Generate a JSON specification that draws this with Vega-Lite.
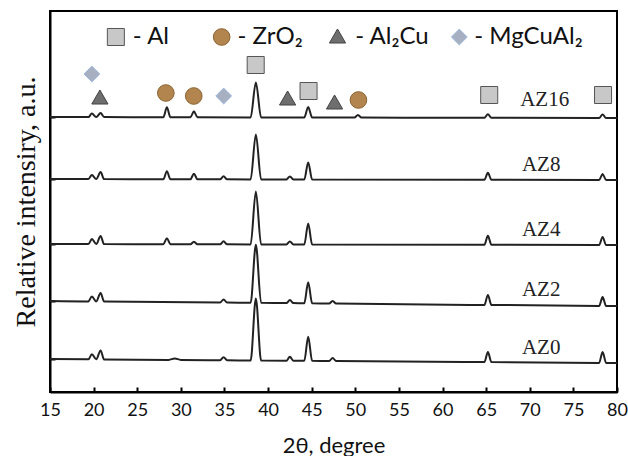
{
  "$schema": "https://vega.github.io/schema/vega-lite/v6.json",
  "width": 567,
  "height": 381,
  "autosize": "none",
  "padding": {"left": 50, "top": 11, "right": 11, "bottom": 64},
  "background": "white",
  "config": {
    "view": {"stroke": "#000000", "strokeWidth": 2},
    "axis": {"domainColor": "#000000", "domainWidth": 2, "tickColor": "#000000", "tickWidth": 2, "grid": false}
  },
  "datasets": {
    "xrd": [
      {"sample":"AZ0","theta":15,"intensity":33},
      {"sample":"AZ0","theta":19.4,"intensity":32.7},
      {"sample":"AZ0","theta":19.8,"intensity":37.7},
      {"sample":"AZ0","theta":20.3,"intensity":32.7},
      {"sample":"AZ0","theta":20.8,"intensity":41.6},
      {"sample":"AZ0","theta":21.2,"intensity":32.6},
      {"sample":"AZ0","theta":28.6,"intensity":32.1},
      {"sample":"AZ0","theta":29.3,"intensity":33.6},
      {"sample":"AZ0","theta":30.0,"intensity":32.1},
      {"sample":"AZ0","theta":34.5,"intensity":31.8},
      {"sample":"AZ0","theta":34.9,"intensity":34.8},
      {"sample":"AZ0","theta":35.3,"intensity":31.8},
      {"sample":"AZ0","theta":38.0,"intensity":31.5},
      {"sample":"AZ0","theta":38.6,"intensity":93.5},
      {"sample":"AZ0","theta":39.2,"intensity":31.5},
      {"sample":"AZ0","theta":42.1,"intensity":31.3},
      {"sample":"AZ0","theta":42.5,"intensity":35.3},
      {"sample":"AZ0","theta":42.9,"intensity":31.3},
      {"sample":"AZ0","theta":44.15,"intensity":31.2},
      {"sample":"AZ0","theta":44.6,"intensity":55.2},
      {"sample":"AZ0","theta":45.05,"intensity":31.2},
      {"sample":"AZ0","theta":47.0,"intensity":31.0},
      {"sample":"AZ0","theta":47.4,"intensity":34.0},
      {"sample":"AZ0","theta":47.8,"intensity":31.0},
      {"sample":"AZ0","theta":64.8,"intensity":29.9},
      {"sample":"AZ0","theta":65.2,"intensity":39.9},
      {"sample":"AZ0","theta":65.6,"intensity":29.9},
      {"sample":"AZ0","theta":77.95,"intensity":29.1},
      {"sample":"AZ0","theta":78.35,"intensity":40.1},
      {"sample":"AZ0","theta":78.75,"intensity":29.1},
      {"sample":"AZ0","theta":80,"intensity":29},

      {"sample":"AZ2","theta":15,"intensity":91},
      {"sample":"AZ2","theta":19.4,"intensity":90.6},
      {"sample":"AZ2","theta":19.8,"intensity":95.6},
      {"sample":"AZ2","theta":20.3,"intensity":90.6},
      {"sample":"AZ2","theta":20.8,"intensity":99.0},
      {"sample":"AZ2","theta":21.2,"intensity":90.5},
      {"sample":"AZ2","theta":34.5,"intensity":89.5},
      {"sample":"AZ2","theta":34.9,"intensity":92.5},
      {"sample":"AZ2","theta":35.3,"intensity":89.5},
      {"sample":"AZ2","theta":38.0,"intensity":89.2},
      {"sample":"AZ2","theta":38.6,"intensity":147.2},
      {"sample":"AZ2","theta":39.2,"intensity":89.2},
      {"sample":"AZ2","theta":42.1,"intensity":88.9},
      {"sample":"AZ2","theta":42.5,"intensity":91.9},
      {"sample":"AZ2","theta":42.9,"intensity":88.9},
      {"sample":"AZ2","theta":44.15,"intensity":88.7},
      {"sample":"AZ2","theta":44.6,"intensity":109.7},
      {"sample":"AZ2","theta":45.05,"intensity":88.7},
      {"sample":"AZ2","theta":47.0,"intensity":88.5},
      {"sample":"AZ2","theta":47.4,"intensity":91.0},
      {"sample":"AZ2","theta":47.8,"intensity":88.5},
      {"sample":"AZ2","theta":64.8,"intensity":87.1},
      {"sample":"AZ2","theta":65.2,"intensity":97.1},
      {"sample":"AZ2","theta":65.6,"intensity":87.1},
      {"sample":"AZ2","theta":77.95,"intensity":86.1},
      {"sample":"AZ2","theta":78.35,"intensity":95.1},
      {"sample":"AZ2","theta":78.75,"intensity":86.1},
      {"sample":"AZ2","theta":80,"intensity":86},

      {"sample":"AZ4","theta":15,"intensity":148},
      {"sample":"AZ4","theta":19.4,"intensity":147.9},
      {"sample":"AZ4","theta":19.8,"intensity":152.9},
      {"sample":"AZ4","theta":20.3,"intensity":147.9},
      {"sample":"AZ4","theta":20.8,"intensity":155.9},
      {"sample":"AZ4","theta":21.2,"intensity":147.9},
      {"sample":"AZ4","theta":28.0,"intensity":147.8},
      {"sample":"AZ4","theta":28.4,"intensity":153.8},
      {"sample":"AZ4","theta":28.8,"intensity":147.8},
      {"sample":"AZ4","theta":31.1,"intensity":147.75},
      {"sample":"AZ4","theta":31.5,"intensity":150.25},
      {"sample":"AZ4","theta":31.9,"intensity":147.75},
      {"sample":"AZ4","theta":34.5,"intensity":147.7},
      {"sample":"AZ4","theta":34.9,"intensity":150.7},
      {"sample":"AZ4","theta":35.3,"intensity":147.7},
      {"sample":"AZ4","theta":38.0,"intensity":147.6},
      {"sample":"AZ4","theta":38.6,"intensity":200.6},
      {"sample":"AZ4","theta":39.2,"intensity":147.6},
      {"sample":"AZ4","theta":42.1,"intensity":147.6},
      {"sample":"AZ4","theta":42.5,"intensity":150.6},
      {"sample":"AZ4","theta":42.9,"intensity":147.6},
      {"sample":"AZ4","theta":44.15,"intensity":147.5},
      {"sample":"AZ4","theta":44.6,"intensity":168.5},
      {"sample":"AZ4","theta":45.05,"intensity":147.5},
      {"sample":"AZ4","theta":64.8,"intensity":147.2},
      {"sample":"AZ4","theta":65.2,"intensity":156.2},
      {"sample":"AZ4","theta":65.6,"intensity":147.2},
      {"sample":"AZ4","theta":77.95,"intensity":147.0},
      {"sample":"AZ4","theta":78.35,"intensity":155.0},
      {"sample":"AZ4","theta":78.75,"intensity":147.0},
      {"sample":"AZ4","theta":80,"intensity":147},

      {"sample":"AZ8","theta":15,"intensity":213},
      {"sample":"AZ8","theta":19.4,"intensity":212.9},
      {"sample":"AZ8","theta":19.8,"intensity":216.9},
      {"sample":"AZ8","theta":20.3,"intensity":212.9},
      {"sample":"AZ8","theta":20.8,"intensity":219.9},
      {"sample":"AZ8","theta":21.2,"intensity":212.9},
      {"sample":"AZ8","theta":28.0,"intensity":212.8},
      {"sample":"AZ8","theta":28.4,"intensity":220.8},
      {"sample":"AZ8","theta":28.8,"intensity":212.8},
      {"sample":"AZ8","theta":31.1,"intensity":212.75},
      {"sample":"AZ8","theta":31.5,"intensity":218.25},
      {"sample":"AZ8","theta":31.9,"intensity":212.75},
      {"sample":"AZ8","theta":34.5,"intensity":212.7},
      {"sample":"AZ8","theta":34.9,"intensity":215.7},
      {"sample":"AZ8","theta":35.3,"intensity":212.7},
      {"sample":"AZ8","theta":38.0,"intensity":212.6},
      {"sample":"AZ8","theta":38.6,"intensity":257.6},
      {"sample":"AZ8","theta":39.2,"intensity":212.6},
      {"sample":"AZ8","theta":42.1,"intensity":212.6},
      {"sample":"AZ8","theta":42.5,"intensity":215.6},
      {"sample":"AZ8","theta":42.9,"intensity":212.6},
      {"sample":"AZ8","theta":44.15,"intensity":212.5},
      {"sample":"AZ8","theta":44.6,"intensity":229.5},
      {"sample":"AZ8","theta":45.05,"intensity":212.5},
      {"sample":"AZ8","theta":64.8,"intensity":212.2},
      {"sample":"AZ8","theta":65.2,"intensity":219.2},
      {"sample":"AZ8","theta":65.6,"intensity":212.2},
      {"sample":"AZ8","theta":77.95,"intensity":212.0},
      {"sample":"AZ8","theta":78.35,"intensity":218.0},
      {"sample":"AZ8","theta":78.75,"intensity":212.0},
      {"sample":"AZ8","theta":80,"intensity":212},

      {"sample":"AZ16","theta":15,"intensity":275},
      {"sample":"AZ16","theta":19.4,"intensity":274.9},
      {"sample":"AZ16","theta":19.8,"intensity":278.4},
      {"sample":"AZ16","theta":20.3,"intensity":274.9},
      {"sample":"AZ16","theta":20.8,"intensity":278.9},
      {"sample":"AZ16","theta":21.2,"intensity":274.9},
      {"sample":"AZ16","theta":28.0,"intensity":274.8},
      {"sample":"AZ16","theta":28.4,"intensity":284.8},
      {"sample":"AZ16","theta":28.8,"intensity":274.8},
      {"sample":"AZ16","theta":31.1,"intensity":274.75},
      {"sample":"AZ16","theta":31.5,"intensity":280.75},
      {"sample":"AZ16","theta":31.9,"intensity":274.75},
      {"sample":"AZ16","theta":38.0,"intensity":274.6},
      {"sample":"AZ16","theta":38.6,"intensity":309.6},
      {"sample":"AZ16","theta":39.2,"intensity":274.6},
      {"sample":"AZ16","theta":44.15,"intensity":274.5},
      {"sample":"AZ16","theta":44.6,"intensity":285.0},
      {"sample":"AZ16","theta":45.05,"intensity":274.5},
      {"sample":"AZ16","theta":49.9,"intensity":274.5},
      {"sample":"AZ16","theta":50.3,"intensity":277.0},
      {"sample":"AZ16","theta":50.7,"intensity":274.5},
      {"sample":"AZ16","theta":64.8,"intensity":274.2},
      {"sample":"AZ16","theta":65.2,"intensity":277.7},
      {"sample":"AZ16","theta":65.6,"intensity":274.2},
      {"sample":"AZ16","theta":77.95,"intensity":274.0},
      {"sample":"AZ16","theta":78.35,"intensity":277.5},
      {"sample":"AZ16","theta":78.75,"intensity":274.0},
      {"sample":"AZ16","theta":80,"intensity":274}
    ],
    "phases": [
      {"phase":"MgCuAl2","theta":19.8,"intensity":318},
      {"phase":"Al2Cu","theta":20.72,"intensity":295},
      {"phase":"ZrO2","theta":28.28,"intensity":299},
      {"phase":"ZrO2","theta":31.48,"intensity":296},
      {"phase":"MgCuAl2","theta":34.91,"intensity":296},
      {"phase":"Al","theta":38.58,"intensity":327},
      {"phase":"Al2Cu","theta":42.24,"intensity":294},
      {"phase":"Al","theta":44.64,"intensity":301},
      {"phase":"Al2Cu","theta":47.62,"intensity":290},
      {"phase":"ZrO2","theta":50.36,"intensity":292},
      {"phase":"Al","theta":65.35,"intensity":297},
      {"phase":"Al","theta":78.4,"intensity":297}
    ],
    "legendSymbols": [
      {"phase":"Al","theta":22.55,"intensity":355},
      {"phase":"ZrO2","theta":34.68,"intensity":355},
      {"phase":"Al2Cu","theta":47.96,"intensity":356},
      {"phase":"MgCuAl2","theta":61.92,"intensity":355}
    ],
    "legendText": [
      {"label":"- Al","theta":24.5,"intensity":355},
      {"label":"- ZrO₂","theta":36.5,"intensity":355},
      {"label":"- Al₂Cu","theta":50.0,"intensity":355},
      {"label":"- MgCuAl₂","theta":63.64,"intensity":355}
    ],
    "sampleLabels": [
      {"label":"AZ16","theta":68.9,"intensity":292},
      {"label":"AZ8","theta":69.1,"intensity":227},
      {"label":"AZ4","theta":69.1,"intensity":162},
      {"label":"AZ2","theta":69.1,"intensity":102},
      {"label":"AZ0","theta":69.1,"intensity":44}
    ]
  },
  "encoding": {
    "x": {
      "field": "theta", "type": "quantitative",
      "scale": {"domain": [15, 80], "nice": false, "zero": false},
      "axis": {
        "title": "2θ, degree",
        "values": [15,20,25,30,35,40,45,50,55,60,65,70,75,80],
        "tickSize": -5,
        "labelFlush": false,
        "labelFont": "Lato", "labelFontSize": 18, "labelColor": "#111111",
        "labelPadding": 14,
        "titleFont": "Lato", "titleFontSize": 22, "titleFontWeight": "normal", "titleColor": "#111111",
        "titlePadding": 16
      }
    },
    "y": {
      "field": "intensity", "type": "quantitative",
      "scale": {"domain": [0, 381], "nice": false, "zero": false},
      "axis": {
        "title": "Relative intensiry, a.u.",
        "values": [33, 91, 148, 213, 275],
        "labels": false,
        "tickSize": -5,
        "titleFont": "Liberation Serif", "titleFontSize": 28, "titleFontWeight": "normal", "titleColor": "#111111",
        "titlePadding": 9
      }
    }
  },
  "layer": [
    {
      "data": {"name": "xrd"},
      "mark": {"type": "line", "interpolate": "monotone", "color": "#222222", "strokeWidth": 2},
      "encoding": {"detail": {"field": "sample", "type": "nominal"}}
    },
    {
      "data": {"name": "phases"},
      "mark": {"type": "point", "filled": true, "opacity": 1, "strokeWidth": 1},
      "encoding": {
        "shape": {"field": "phase", "type": "nominal", "legend": null,
          "scale": {"domain": ["Al","ZrO2","Al2Cu","MgCuAl2"], "range": ["square","circle","triangle-up","diamond"]}},
        "fill": {"field": "phase", "type": "nominal", "legend": null,
          "scale": {"domain": ["Al","ZrO2","Al2Cu","MgCuAl2"], "range": ["#c8c8c8","#b3854e","#6e6e6e","#a6b0c0"]}},
        "stroke": {"field": "phase", "type": "nominal", "legend": null,
          "scale": {"domain": ["Al","ZrO2","Al2Cu","MgCuAl2"], "range": ["#555555","#8a6433","#444444","#9fb8de"]}},
        "size": {"field": "phase", "type": "nominal", "legend": null,
          "scale": {"domain": ["Al","ZrO2","Al2Cu","MgCuAl2"], "range": [290, 250, 320, 460]}}
      }
    },
    {
      "data": {"name": "legendSymbols"},
      "mark": {"type": "point", "filled": true, "opacity": 1, "strokeWidth": 1},
      "encoding": {
        "shape": {"field": "phase", "type": "nominal", "legend": null},
        "fill": {"field": "phase", "type": "nominal", "legend": null},
        "stroke": {"field": "phase", "type": "nominal", "legend": null},
        "size": {"field": "phase", "type": "nominal", "legend": null}
      }
    },
    {
      "data": {"name": "legendText"},
      "mark": {"type": "text", "align": "left", "baseline": "middle", "font": "Lato", "fontSize": 24, "color": "#111111"},
      "encoding": {"text": {"field": "label", "type": "nominal"}}
    },
    {
      "data": {"name": "sampleLabels"},
      "mark": {"type": "text", "align": "left", "baseline": "middle", "font": "Liberation Serif", "fontSize": 21, "color": "#222222"},
      "encoding": {"text": {"field": "label", "type": "nominal"}}
    }
  ]
}
